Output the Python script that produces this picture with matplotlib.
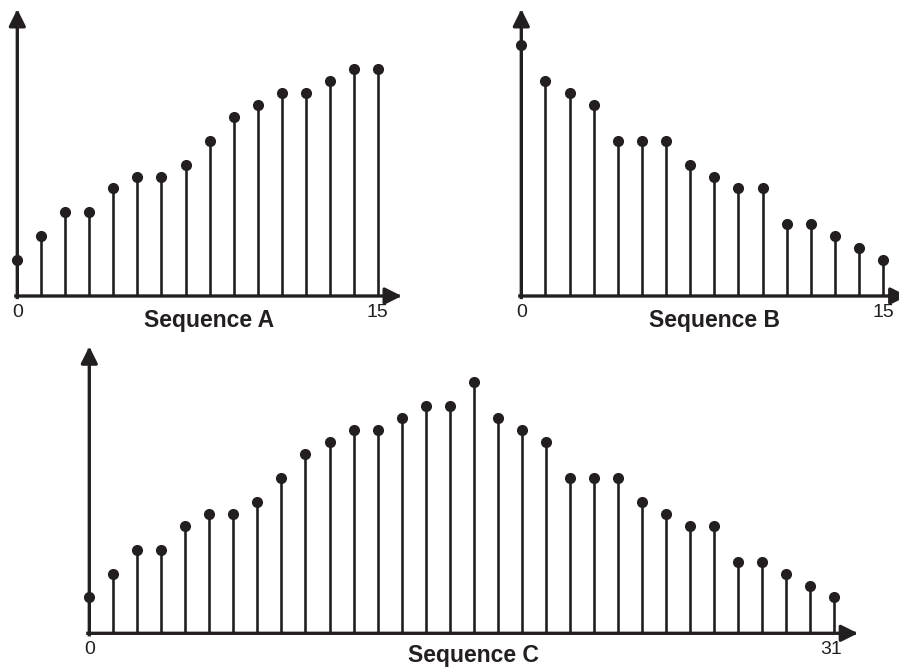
import matplotlib
matplotlib.use("Agg")
import matplotlib.pyplot as plt
import numpy as np

# Data (in grid units)
seq_a = [3, 5, 7, 7, 9, 10, 10, 11, 13, 15, 16, 17, 17, 18, 19, 19]
seq_b = [21, 18, 17, 16, 13, 13, 13, 11, 10, 9, 9, 6, 6, 5, 4, 3]
seq_c = seq_a + seq_b
titles = ["Sequence A", "Sequence B", "Sequence C"]
end_labels = ["15", "15", "31"]

W, H = 899, 670
INK = "#231f20"
fig = plt.figure(figsize=(W / 100, H / 100), dpi=100)
fig.patch.set_facecolor("white")

YL = (-3.0, 25.0)


def make_axes(px0, sx, py, sy, n):
    xlo, xhi = -1.0, n + 1.0
    ylo, yhi = YL
    left = px0 + xlo * sx
    width = (xhi - xlo) * sx
    top = py - yhi * sy
    height = (yhi - ylo) * sy
    ax = fig.add_axes([left / W, 1 - (top + height) / H, width / W, height / H])
    ax.set_xlim(xlo, xhi)
    ax.set_ylim(ylo, yhi)
    ax.axis("off")
    return ax


def draw(ax, vals, title, endlab, lab_dy):
    n = len(vals)
    x = np.arange(n)
    ml, sl, bl = ax.stem(x, vals, basefmt=" ")
    plt.setp(sl, color=INK, linewidth=1.9)
    plt.setp(ml, color=INK, markersize=7.0, marker="o", clip_on=False)
    sl.set_clip_on(False)
    arrow = dict(arrowstyle="-|>,head_length=0.4,head_width=0.2",
                 mutation_scale=25, lw=2.4, color=INK,
                 shrinkA=0, shrinkB=0, capstyle="projecting")
    ax.annotate("", xy=(n, 0), xytext=(-0.06, 0), arrowprops=arrow,
                annotation_clip=False)
    ax.annotate("", xy=(0, 24), xytext=(0, -0.12), arrowprops=arrow,
                annotation_clip=False)
    ax.text(0, -0.65, "0", ha="center", va="top", fontsize=14,
            family="Liberation Sans", color=INK)
    ax.text(n - 1 - (0.1 if n > 16 else 0), -0.65, endlab, ha="center",
            va="top", fontsize=14, family="Liberation Sans", color=INK)
    ax.text(n / 2, -lab_dy, title, ha="center", va="center", fontsize=16.5,
            fontweight="bold", family="Liberation Sans", color=INK)


axA = make_axes(17.3, 24.03, 296.0, 11.95, len(seq_a))
draw(axA, seq_a, titles[0], end_labels[0], 2.05)
axB = make_axes(521.3, 24.13, 296.0, 11.95, len(seq_b))
draw(axB, seq_b, titles[1], end_labels[1], 2.05)
axC = make_axes(89.3, 24.02, 633.3, 11.95, len(seq_c))
draw(axC, seq_c, titles[2], end_labels[2], 1.85)

fig.savefig("out.png", dpi=100, facecolor="white")
